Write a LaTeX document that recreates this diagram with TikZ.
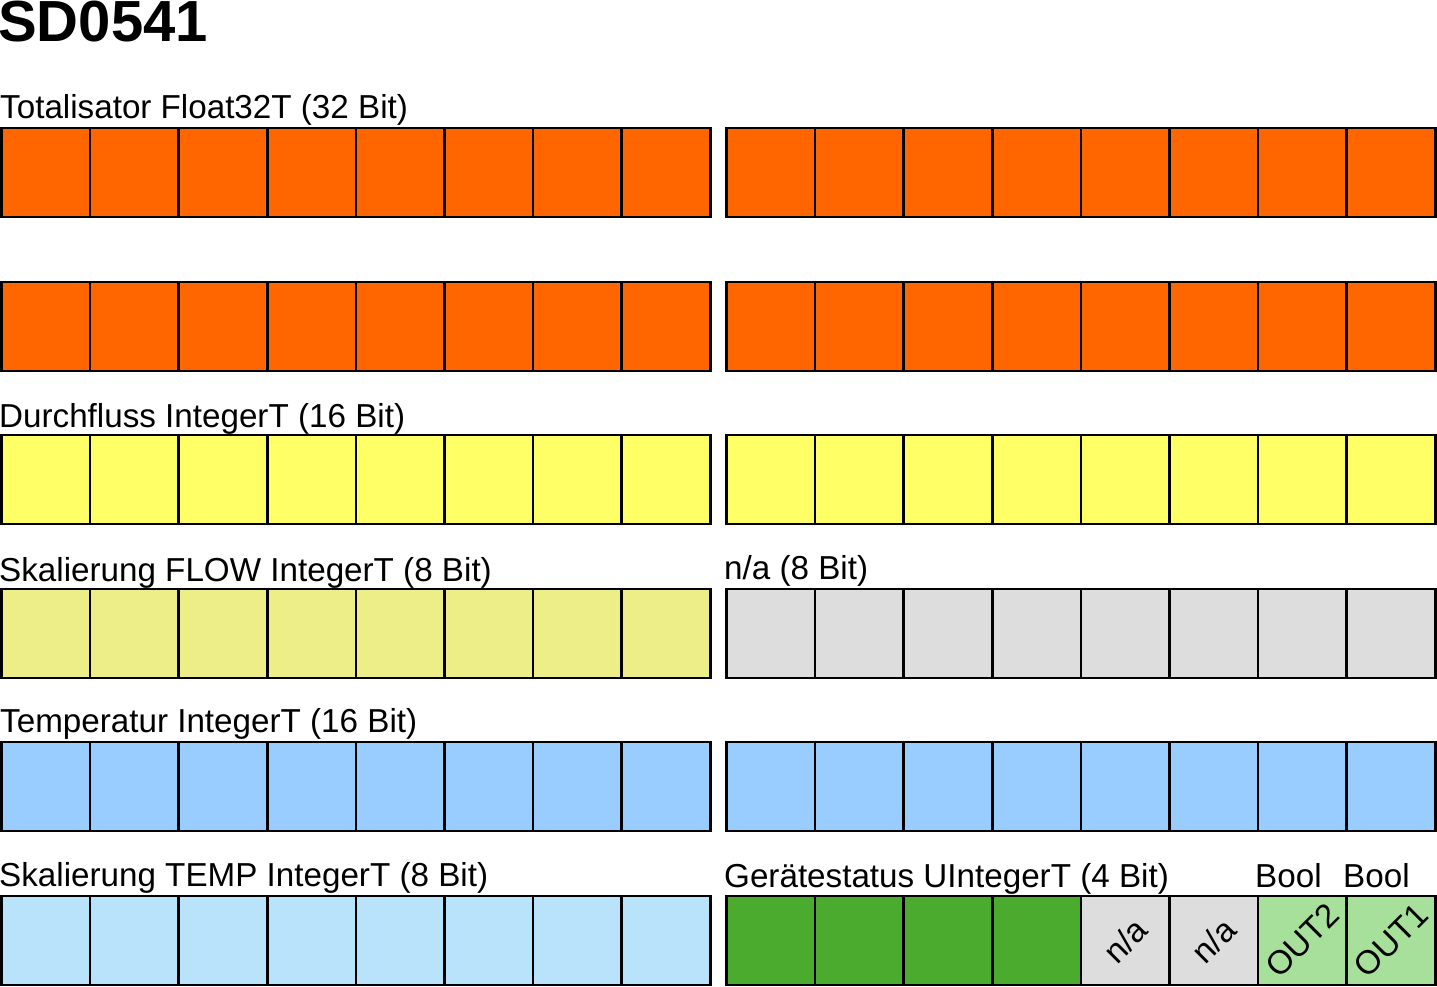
\documentclass[tikz,border=0pt]{standalone}
\usepackage{fontspec}
\setmainfont{Liberation Sans}
\definecolor{corange}{HTML}{FF6600}
\definecolor{cyellow}{HTML}{FFFF66}
\definecolor{cpale}{HTML}{EEEE88}
\definecolor{cgrey}{HTML}{DDDDDD}
\definecolor{cblue}{HTML}{99CCFF}
\definecolor{clblue}{HTML}{B9E3FB}
\definecolor{cgreen}{HTML}{4BAB2F}
\definecolor{clgreen}{HTML}{A7E09A}
\begin{document}
\begin{tikzpicture}[x=1pt,y=-1pt,
  cell/.style={draw=black,line width=2.6pt,rectangle,minimum width=88.6pt,minimum height=89pt,inner sep=0pt,outer sep=0pt},
  lbl/.style={anchor=base west,inner sep=0pt,font=\fontsize{33.2}{38}\selectfont},
  rot/.style={rotate=45,inner sep=0pt,font=\fontsize{33.2}{38}\selectfont}]
\useasboundingbox (0,0) rectangle (1437,986);
\node[anchor=base west,inner sep=0pt,font=\fontsize{58}{64}\selectfont\bfseries] (title) at (-2,41) {SD0541};
% rows: top y, left colour, right colour
\foreach \r/\yt/\lc/\rc in {1/128/corange/corange,2/282/corange/corange,3/435/cyellow/cyellow,4/589/cpale/cgrey,5/742/cblue/cblue}{
  \foreach \i in {0,...,7}{
    \node[cell,fill=\lc] (L\r-\i) at ({1.5+44.3+88.6*\i},{\yt+44.5}) {};
    \node[cell,fill=\rc] (R\r-\i) at ({726.5+44.3+88.6*\i},{\yt+44.5}) {};
  }
}
\foreach \i in {0,...,7}{
  \node[cell,fill=clblue] (L6-\i) at ({1.5+44.3+88.6*\i},{896+44.5}) {};
}
\foreach \i/\c in {0/cgreen,1/cgreen,2/cgreen,3/cgreen,4/cgrey,5/cgrey,6/clgreen,7/clgreen}{
  \node[cell,fill=\c] (R6-\i) at ({726.5+44.3+88.6*\i},{896+44.5}) {};
}
\node[rot] (na1) at (R6-4.center) {n/a};
\node[rot] (na2) at (R6-5.center) {n/a};
\node[rot] (out2) at (R6-6.center) {OUT2};
\node[rot] (out1) at (R6-7.center) {OUT1};
% labels
\node[lbl] (t1) at (0,118) {Totalisator Float32T (32 Bit)};
\node[lbl] (t2) at (-1,427) {Durchfluss IntegerT (16 Bit)};
\node[lbl] (t3) at (-1,581) {Skalierung FLOW IntegerT (8 Bit)};
\node[lbl] (t4) at (724,579) {n/a (8 Bit)};
\node[lbl] (t5) at (0,732) {Temperatur IntegerT (16 Bit)};
\node[lbl] (t6) at (-1,886) {Skalierung TEMP IntegerT (8 Bit)};
\node[lbl] (t7) at (724,887) {Gerätestatus UIntegerT (4 Bit)};
\node[lbl] (t8) at (1255,887) {Bool};
\node[lbl] (t9) at (1343,887) {Bool};
\end{tikzpicture}
\end{document}
